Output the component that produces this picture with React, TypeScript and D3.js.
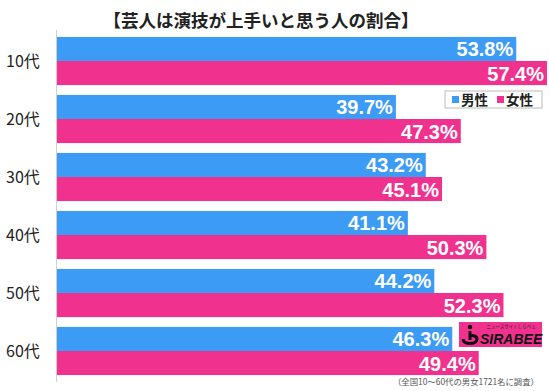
import * as d3 from "d3";

const ages = ["10代", "20代", "30代", "40代", "50代", "60代"];
const male = [53.8, 39.7, 43.2, 41.1, 44.2, 46.3];
const female = [57.4, 47.3, 45.1, 50.3, 52.3, 49.4];
const seriesNames = ["男性", "女性"];
const colors = ["#3b9bf5", "#f0318e"];

const W = 550;
const H = 391;

export default function App() {
  const x = d3.scaleLinear().domain([0, 57.4]).range([57, 547]);
  const y = d3.scaleBand().domain(ages).range([32, 380]).paddingInner(0.17).paddingOuter(0.085);
  const sub = d3.scaleBand().domain(seriesNames).range([0, y.bandwidth()]);
  const rows = ages.map((a, i) => ({ age: a, vals: [male[i], female[i]] }));
  const cjk = "'Noto Sans CJK JP', 'Noto Sans', sans-serif";
  const num = "'Liberation Sans', Arial, sans-serif";

  return (
    <div style={{ position: "absolute", left: 0, top: 0 }}>
      <svg width={W} height={H} viewBox={`0 0 ${W} ${H}`} style={{ display: "block", background: "#fff" }}>
        <text x={261} y={27} textAnchor="middle" fontFamily={cjk} fontWeight="bold" fontSize={17.5} fill="#222">
          【芸人は演技が上手いと思う人の割合】
        </text>

        {rows.map((r) => (
          <g key={r.age}>
            <text x={6} y={(y(r.age) as number) + y.bandwidth() / 2 + 6} fontFamily={cjk} fontSize={16} fill="#222">
              {r.age}
            </text>
            {r.vals.map((v, j) => {
              const by = (y(r.age) as number) + (sub(seriesNames[j]) as number);
              return (
                <g key={j}>
                  <rect x={x(0)} y={by} width={x(v) - x(0)} height={sub.bandwidth()} fill={colors[j]} />
                  <text
                    x={x(v) - 3}
                    y={by + sub.bandwidth() / 2 + 7.5}
                    textAnchor="end"
                    fontFamily={num}
                    fontWeight="bold"
                    fontSize={20}
                    fill="#fff"
                  >
                    {v.toFixed(1)}%
                  </text>
                </g>
              );
            })}
          </g>
        ))}

        <line x1={56.5} x2={56.5} y1={30} y2={382} stroke="#cfcfcf" strokeWidth={1} />

        {/* legend */}
        <g transform="translate(445,91)">
          <rect x={0} y={0} width={97} height={17} fill="#fff" stroke="#bbb" />
          {seriesNames.map((s, i) => (
            <g key={s} transform={`translate(${7 + i * 45},0)`}>
              <rect x={0} y={5} width={7} height={7} fill={colors[i]} />
              <text x={9} y={14} fontFamily={cjk} fontWeight="bold" fontSize={13.5} fill="#222">
                {s}
              </text>
            </g>
          ))}
        </g>

        {/* logo */}
        <g transform="translate(459,322)">
          <rect x={0} y={0} width={83} height={25} fill="#f0318e" />
          <text x={52} y={6} textAnchor="middle" fontFamily={cjk} fontSize={4.5} fill="#222">
            ニュースサイトしらべぇ
          </text>
          <circle cx={11} cy={5} r={2.2} fill="#111" />
          <path
            d="M11,9 L11,18 M4,17 C4,23 18,23 18,17 C18,14 14,13 11,14"
            fill="none"
            stroke="#111"
            strokeWidth={3}
          />
          <text x={21} y={22} fontFamily={num} fontWeight="bold" fontStyle="italic" fontSize={14} fill="#111">
            SIRABEE
          </text>
        </g>

        <text x={539} y={385} textAnchor="end" fontFamily={cjk} fontSize={8.4} fill="#555">
          （全国10～60代の男女1721名に調査）
        </text>
      </svg>
    </div>
  );
}
